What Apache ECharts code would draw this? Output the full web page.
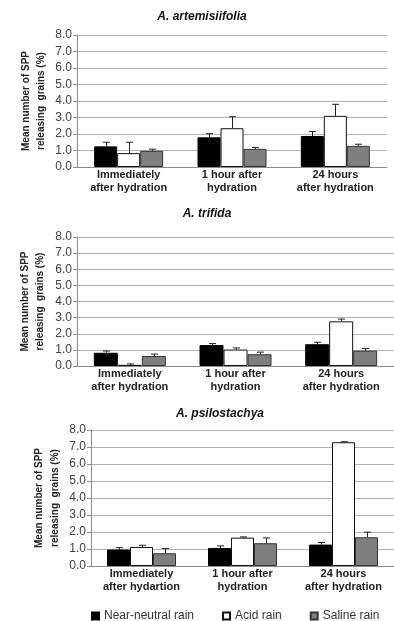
<!DOCTYPE html>
<html><head><meta charset="utf-8">
<script src="https://cdn.jsdelivr.net/npm/echarts@6/dist/echarts.min.js"></script>
<style>html,body{margin:0;padding:0;background:#fff}#c{width:394px;height:621px}</style>
</head><body><div id="c"></div><script>
// ---- data ----
const panelTitles = ['A. artemisiifolia', 'A. trifida', 'A. psilostachya'];
const categories1 = ['Immediately\nafter hydration', '1 hour after\nhydration', '24 hours\nafter hydration'];
const categories2 = ['Immediately\nafter hydration', '1 hour after\nhydration', '24 hours\nafter hydration'];
const categories3 = ['Immediately\nafter hydartion', '1 hour after\nhydration', '24 hours\nafter hydration'];
const seriesNames = ['Near-neutral rain', 'Acid rain', 'Saline rain'];
const yAxisName = 'Mean number of SPP\nreleasing  grains (%)';
const yMin = 0, yMax = 8, yStep = 1;

// A. artemisiifolia
const nearNeutral1 = [1.25, 1.80, 1.88];
const nearNeutralErr1 = [0.25, 0.22, 0.27];
const acid1 = [0.84, 2.35, 3.10];
const acidErr1 = [0.66, 0.70, 0.70];
const saline1 = [0.98, 1.10, 1.28];
const salineErr1 = [0.10, 0.08, 0.10];

// A. trifida
const nearNeutral2 = [0.82, 1.30, 1.35];
const nearNeutralErr2 = [0.11, 0.09, 0.12];
const acid2 = [0.07, 1.02, 2.77];
const acidErr2 = [0.06, 0.10, 0.14];
const saline2 = [0.62, 0.73, 0.95];
const salineErr2 = [0.12, 0.13, 0.13];

// A. psilostachya
const nearNeutral3 = [0.97, 1.06, 1.26];
const nearNeutralErr3 = [0.11, 0.12, 0.12];
const acid3 = [1.12, 1.67, 7.28];
const acidErr3 = [0.10, 0.04, 0.03];
const saline3 = [0.75, 1.34, 1.69];
const salineErr3 = [0.28, 0.31, 0.30];

// ---- build ----
const panels = [
  {cats: categories1, vals: [nearNeutral1, acid1, saline1], errs: [nearNeutralErr1, acidErr1, salineErr1]},
  {cats: categories2, vals: [nearNeutral2, acid2, saline2], errs: [nearNeutralErr2, acidErr2, salineErr2]},
  {cats: categories3, vals: [nearNeutral3, acid3, saline3], errs: [nearNeutralErr3, acidErr3, salineErr3]}
];
const layout = [
  {grid: {left: 77, top: 35, width: 310, height: 132}, title: {left: 202, top: 11}, bw: 23, gap: 28, lh: 15},
  {grid: {left: 77, top: 237, width: 323, height: 129}, title: {left: 207, top: 208}, bw: 24, gap: 29, lh: 15},
  {grid: {left: 91, top: 430, width: 307, height: 136}, title: {left: 220, top: 408}, bw: 23, gap: 28, lh: 16}
];
const FONT = "'Liberation Sans', Arial, sans-serif";
const fills = ['#000000', '#ffffff', '#7f7f7f'];
const borders = ['#000000', '#111111', '#333333'];

const option = {
  animation: false,
  backgroundColor: '#ffffff',
  title: [], grid: [], xAxis: [], yAxis: [], series: [],
  legend: {
    data: seriesNames, left: 91, top: 610, padding: 0,
    itemWidth: 7, itemHeight: 7, itemGap: 28, icon: 'rect',
    textStyle: {fontFamily: FONT, fontSize: 12, color: '#333'}
  }
};

panels.forEach((p, i) => {
  const L = layout[i];
  option.title.push({
    text: panelTitles[i], left: L.title.left, top: L.title.top, textAlign: 'center', padding: 0,
    textStyle: {fontFamily: FONT, fontSize: 12, fontWeight: 'bold', fontStyle: 'italic', color: '#111'}
  });
  option.grid.push(Object.assign({containLabel: false}, L.grid));
  option.xAxis.push({
    type: 'category', gridIndex: i, data: p.cats,
    axisLine: {lineStyle: {color: '#8c8c8c', width: 1}},
    axisTick: {show: false},
    axisLabel: {fontFamily: FONT, fontSize: 11, fontWeight: 'bold', color: '#222', lineHeight: 13, margin: 1, interval: 0}
  });
  option.yAxis.push({
    type: 'value', gridIndex: i, min: yMin, max: yMax, interval: yStep,
    name: yAxisName, nameLocation: 'middle', nameGap: L.gap, nameMoveOverlap: false,
    nameTextStyle: {fontFamily: FONT, fontSize: 10, fontWeight: 'bold', color: '#222', lineHeight: L.lh},
    axisLine: {show: true, lineStyle: {color: '#8c8c8c', width: 1}},
    axisTick: {show: true, length: 4, lineStyle: {color: '#8c8c8c'}},
    axisLabel: {fontFamily: FONT, fontSize: 12, color: '#404040', margin: 5, formatter: v => v.toFixed(1)},
    splitLine: {lineStyle: {color: '#b3b3b3', width: 1}}
  });
  p.vals.forEach((vals, k) => {
    option.series.push({
      type: 'bar', name: seriesNames[k], xAxisIndex: i, yAxisIndex: i, data: vals,
      barWidth: L.bw, barGap: '0%',
      itemStyle: {color: fills[k], borderColor: borders[k], borderWidth: 1}
    });
  });
  p.vals.forEach((vals, k) => {
    const offset = (k - 1) * L.bw;
    option.series.push({
      type: 'custom', name: 'err', xAxisIndex: i, yAxisIndex: i, z: 5,
      encode: {x: 0, y: [1, 2]},
      data: vals.map((v, j) => [j, v, v + p.errs[k][j]]),
      renderItem: (params, api) => {
        const c = api.value(0);
        const p0 = api.coord([c, api.value(1)]);
        const p1 = api.coord([c, api.value(2)]);
        const x = Math.round(p0[0] + offset) + 0.5;
        const st = {stroke: '#222', lineWidth: 1};
        return {type: 'group', children: [
          {type: 'line', shape: {x1: x, y1: p0[1], x2: x, y2: p1[1]}, style: st},
          {type: 'line', shape: {x1: x - 3.5, y1: p1[1], x2: x + 3.5, y2: p1[1]}, style: st}
        ]};
      }
    });
  });
});

const chart = echarts.init(document.getElementById('c'), null, {renderer: 'canvas'});
chart.setOption(option);
</script></body></html>
